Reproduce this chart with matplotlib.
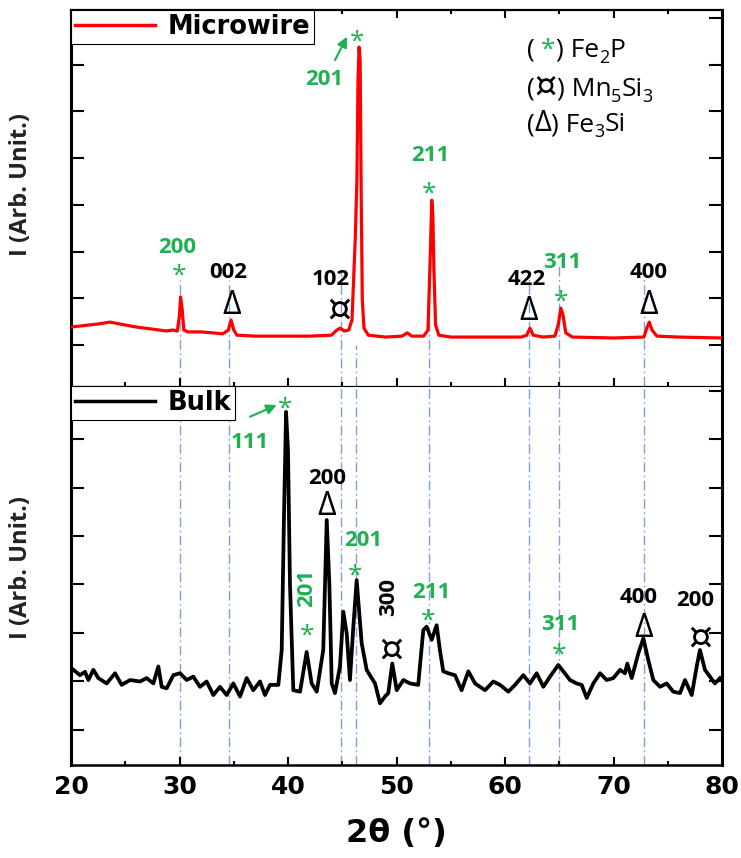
import matplotlib
matplotlib.use('Agg')
import matplotlib.pyplot as plt
from matplotlib.ticker import MultipleLocator, NullFormatter

plt.rcParams['font.family'] = ['Open Sans', 'DejaVu Sans']

# ---------------- data ----------------
mw_x = [20.0, 21.0, 22.5, 23.6, 24.5, 26.0, 27.5, 28.8, 29.4, 29.8,
        30.0, 30.1, 30.25, 30.4, 30.8, 32.0, 34.0, 34.5, 34.75, 35.0,
        35.3, 37.0, 40.0, 42.0, 44.0, 44.5, 44.8, 45.2, 45.6, 45.9,
        46.2, 46.35, 46.45, 46.55, 46.65, 46.75, 46.85, 47.0, 47.4, 49.0,
        50.5, 51.0, 51.4, 52.5, 52.9, 53.1, 53.25, 53.35, 53.45, 53.6,
        53.9, 55.0, 58.0, 61.5, 62.0, 62.3, 62.6, 63.5, 64.6, 64.9,
        65.15, 65.35, 65.6, 66.2, 70.0, 72.8, 73.1, 73.3, 73.55, 74.0,
        76.0, 80.0]
mw_y = [0.385, 0.41, 0.45, 0.49, 0.45, 0.385, 0.34, 0.30, 0.32, 0.30,
        0.64, 1.03, 0.75, 0.32, 0.28, 0.28, 0.24, 0.32, 0.535, 0.32,
        0.21, 0.19, 0.19, 0.19, 0.21, 0.32, 0.36, 0.30, 0.32, 0.54,
        2.29, 3.53, 5.67, 6.38, 6.10, 3.10, 0.96, 0.36, 0.21, 0.17,
        0.19, 0.26, 0.19, 0.19, 0.32, 1.82, 3.10, 2.78, 1.61, 0.43,
        0.21, 0.17, 0.17, 0.17, 0.21, 0.36, 0.21, 0.17, 0.19, 0.43,
        0.79, 0.64, 0.26, 0.17, 0.15, 0.17, 0.385, 0.49, 0.32, 0.19,
        0.17, 0.15]

bulk_x = [20.06, 20.83, 21.29, 21.6, 22.06, 22.52, 23.29, 24.06, 24.67, 25.44,
          26.36, 26.97, 27.59, 28.05, 28.36, 28.82, 29.43, 30.05, 30.66, 31.27,
          31.89, 32.5, 33.12, 33.73, 34.35, 34.96, 35.58, 36.19, 36.8, 37.42,
          37.88, 38.34, 39.11, 39.42, 39.63, 39.82, 40.0, 40.18, 40.49, 41.11,
          41.72, 42.18, 42.65, 43.25, 43.57, 43.81, 44.03, 44.33, 44.79, 45.1,
          45.41, 45.71, 46.02, 46.33, 46.79, 47.25, 47.71, 48.02, 48.48, 48.94,
          49.24, 49.61, 50.02, 50.63, 51.24, 52.0, 52.47, 52.78, 53.24, 53.7,
          54.0, 54.31, 54.77, 55.39, 56.0, 56.62, 57.24, 58.16, 58.92, 59.54,
          60.31, 60.92, 61.69, 62.3, 62.92, 63.53, 64.15, 64.91, 65.37, 65.99,
          66.6, 67.07, 67.53, 68.14, 68.76, 69.37, 69.99, 70.6, 71.06, 71.27,
          71.68, 72.29, 72.75, 73.21, 73.67, 74.29, 74.9, 75.51, 76.13, 76.59,
          77.21, 77.67, 77.97, 78.43, 78.89, 79.35, 79.82]
bulk_y = [1.27, 1.13, 1.20, 1.03, 1.24, 1.07, 0.96, 1.17, 0.93, 1.03,
          1.00, 1.07, 0.96, 1.31, 0.89, 0.86, 1.13, 1.17, 1.03, 1.10,
          0.89, 1.00, 0.72, 0.89, 0.72, 0.96, 0.69, 1.07, 0.82, 1.00,
          0.72, 0.93, 0.93, 1.65, 4.40, 6.56, 5.77, 3.02, 0.82, 0.79,
          1.61, 0.96, 0.79, 1.65, 4.33, 3.02, 0.96, 0.76, 1.31, 2.44,
          1.99, 1.03, 2.13, 3.09, 1.79, 1.24, 1.07, 0.96, 0.55, 0.69,
          0.76, 1.37, 0.82, 1.03, 0.96, 0.93, 2.06, 2.13, 1.86, 2.16,
          1.65, 1.21, 1.17, 1.13, 0.82, 1.21, 0.96, 0.82, 1.00, 0.93,
          0.79, 0.93, 1.13, 0.96, 1.17, 0.89, 1.10, 1.34, 1.21, 1.03,
          0.96, 0.93, 0.66, 0.96, 1.17, 1.03, 1.07, 1.24, 1.17, 1.37,
          1.07, 1.58, 1.89, 1.44, 1.03, 0.89, 0.96, 0.79, 0.76, 1.03,
          0.72, 1.31, 1.65, 1.24, 1.10, 0.96, 1.07]

ref_lines = [30.0, 34.6, 44.9, 46.3, 53.0, 62.2, 65.0, 72.8]
ref_top_start = [1.39, 1.40, 1.60, 0.0, 1.75, 1.46, 1.75, 1.54]

GREEN = '#1fb050'
BLACK = 'black'

# (label, x, y, color, rotation)
top_hkl = [("200", 29.8, 2.14, GREEN, 0), ("002", 34.5, 1.60, BLACK, 0),
           ("102", 43.9, 1.46, BLACK, 0), ("201", 43.3, 5.74, GREEN, 0),
           ("211", 53.1, 4.11, GREEN, 0), ("422", 62.0, 1.46, BLACK, 0),
           ("311", 65.3, 1.82, GREEN, 0), ("400", 73.2, 1.60, BLACK, 0)]
top_sym = [("*", 30.0, 1.67, GREEN), ("Δ", 34.8, 0.92, BLACK),
           ("¤", 44.7, 0.81, BLACK), ("*", 46.4, 6.68, GREEN),
           ("*", 53.0, 3.43, GREEN), ("Δ", 62.2, 0.79, BLACK),
           ("*", 65.2, 1.11, GREEN), ("Δ", 73.2, 0.90, BLACK)]
bot_hkl = [("111", 36.5, 5.98, GREEN, 0), ("200", 43.57, 5.24, BLACK, 0),
           ("201", 41.72, 2.92, GREEN, 90), ("201", 46.94, 3.95, GREEN, 0),
           ("300", 49.25, 2.75, BLACK, 90), ("211", 53.24, 2.89, GREEN, 0),
           ("311", 65.07, 2.23, GREEN, 0), ("400", 72.29, 2.78, BLACK, 0),
           ("200", 77.5, 2.72, BLACK, 0)]
bot_sym = [("*", 39.72, 6.80, GREEN), ("Δ", 43.57, 4.67, BLACK),
           ("*", 41.72, 2.13, GREEN), ("*", 46.18, 3.37, GREEN),
           ("¤", 49.55, 1.72, BLACK), ("*", 52.87, 2.44, GREEN),
           ("*", 64.99, 1.73, GREEN), ("Δ", 72.8, 2.16, BLACK),
           ("¤", 77.97, 1.96, BLACK)]
top_arrow = ((44.33, 6.10), (45.44, 6.60))
bot_arrow = ((36.5, 6.46), (38.96, 6.70))

# ---------------- figure ----------------
W, H = 741, 858
fig = plt.figure(figsize=(W / 100, H / 100), dpi=100)
L, R = 71 / W, 722 / W
ax1 = fig.add_axes([L, 1 - 386 / H, R - L, 376 / H])
ax2 = fig.add_axes([L, 1 - 765 / H, R - L, 379 / H], sharex=ax1)

ax1.plot(mw_x, mw_y, color='red', lw=2.3, label='Microwire', zorder=3)
ax2.plot(bulk_x, bulk_y, color='black', lw=2.7, label='Bulk', zorder=3)

ax1.set_xlim(20, 80)
ax1.set_ylim(-0.878, 7.173)
ax2.set_ylim(-0.722, 7.093)

line_style = dict(color='#7d9fdf', lw=1.0, linestyle=(0, (7, 2.5, 1.2, 2.5)), zorder=1)
for xv, ys in zip(ref_lines, ref_top_start):
    ax1.plot([xv, xv], [-0.878, ys], **line_style)
    ax2.plot([xv, xv], [-0.722, 7.093], **line_style)

for ax in (ax1, ax2):
    ax.xaxis.set_major_locator(MultipleLocator(10))
    ax.xaxis.set_minor_locator(MultipleLocator(5))
    ax.yaxis.set_major_locator(MultipleLocator(1))
    ax.yaxis.set_major_formatter(NullFormatter())
    ax.tick_params(axis='y', which='major', direction='in', left=True, right=True,
                   length=9.5, width=1.5)
    ax.tick_params(axis='x', which='major', direction='in', length=5.5, width=1.5)
    ax.tick_params(axis='x', which='minor', direction='in', length=3.2, width=1.5)
    for s in ('left', 'right'):
        ax.spines[s].set_linewidth(2.2)

ax1.tick_params(axis='x', which='both', top=True, bottom=True, labelbottom=False)
ax2.tick_params(axis='x', which='both', top=False, bottom=True, labelbottom=True, pad=7)
ax1.spines['top'].set_linewidth(1.6)
ax1.spines['bottom'].set_linewidth(0.8)
ax2.spines['top'].set_linewidth(0.8)
ax2.spines['bottom'].set_linewidth(1.8)

for lab in ax2.get_xticklabels():
    lab.set_fontfamily('DejaVu Sans')
    lab.set_fontweight('bold')
    lab.set_fontsize(18)

for ax, yc in ((ax1, 0.535), (ax2, 0.522)):
    ax.set_ylabel('I (Arb. Unit.)', fontsize=17, fontweight='bold', color='#222222')
    ax.yaxis.set_label_coords(-0.058, yc)

ax2.set_xlabel('2θ (°)', fontsize=23, fontweight='bold', fontfamily='DejaVu Sans', labelpad=14)

for ax in (ax1, ax2):
    leg = ax.legend(loc='upper left', bbox_to_anchor=(0, 1), borderaxespad=0,
                    fancybox=False, edgecolor='black', framealpha=1,
                    prop=dict(family='DejaVu Sans', weight='bold', size=18.5),
                    handlelength=3.1, handletextpad=0.5, borderpad=0.15)
    leg.get_frame().set_linewidth(0.8)
    for ln in leg.get_lines():
        ln.set_linewidth(2.5)

# ---------------- annotations ----------------
CENTER_FRAC = {'*': 0.59, 'Δ': 0.36, '¤': 0.36}


def put_label(ax, s, x, y, color, rot, size=16):
    if rot:
        ax.text(x, y, s, color=color, fontsize=size, fontweight='bold',
                rotation=rot, ha='center', va='center', zorder=5)
    else:
        ax.annotate(s, (x, y), xytext=(0, -0.36 * size), textcoords='offset points',
                    color=color, fontsize=size, fontweight='bold',
                    ha='center', va='baseline', zorder=5)


def put_sym(ax, s, x, y, color):
    family = ['Open Sans', 'DejaVu Sans']
    if s == '*':
        size, weight = 19, 'normal'
    elif s == 'Δ':
        size, weight = 23, 'normal'
    else:
        size, weight, family = 27, 'normal', ['DejaVu Sans']
    ax.annotate(s, (x, y), xytext=(0, -CENTER_FRAC[s] * size), textcoords='offset points',
                color=color, fontsize=size, fontweight=weight, family=family,
                ha='center', va='baseline', zorder=5)


for s, x, y, c, r in top_hkl:
    put_label(ax1, s, x, y, c, r)
for s, x, y, c in top_sym:
    put_sym(ax1, s, x, y, c)
for s, x, y, c, r in bot_hkl:
    put_label(ax2, s, x, y, c, r)
for s, x, y, c in bot_sym:
    put_sym(ax2, s, x, y, c)

for ax, (tail, head) in ((ax1, top_arrow), (ax2, bot_arrow)):
    ax.annotate('', xy=head, xytext=tail,
                arrowprops=dict(arrowstyle='-|>,head_length=0.6,head_width=0.3',
                                color=GREEN, lw=1.5, shrinkA=0, shrinkB=0), zorder=5)


# phase key (rich text)
def rich(ax, x, y, parts):
    first = parts[0]
    t0 = ax.text(x, y, first[0], color=first[1], fontsize=first[2],
                 ha='left', va='baseline', zorder=5)
    prev = t0
    for s, c, fs, dy, fam in parts[1:]:
        prev = ax.annotate(s, xy=(1, 0), xycoords=(prev, t0), xytext=(0, dy),
                           textcoords='offset points', color=c, fontsize=fs,
                           family=fam, ha='left', va='bottom', zorder=5)
    return t0


FS, SS = 19, 13
OS = ['Open Sans', 'DejaVu Sans']
DJ = ['DejaVu Sans']
rich(ax1, 62.0, 6.17, [("(", BLACK, FS, 0, OS), (" *", GREEN, FS, 0, OS),
                        (") Fe", BLACK, FS, 0, OS), ("2", BLACK, SS, -3, OS),
                        ("P", BLACK, FS, 0, OS)])
rich(ax1, 62.0, 5.34, [("(", BLACK, FS, 0, OS), ("¤", BLACK, 25, -1.5, DJ),
                        (") Mn", BLACK, FS, 0, OS), ("5", BLACK, SS, -3, OS),
                        ("Si", BLACK, FS, 0, OS), ("3", BLACK, SS, -3, OS)])
rich(ax1, 62.0, 4.58, [("(", BLACK, FS, 0, OS), ("Δ", BLACK, 21, -0.8, OS),
                        (") Fe", BLACK, FS, 0, OS), ("3", BLACK, SS, -3, OS),
                        ("Si", BLACK, FS, 0, OS)])

fig.savefig('out.png', dpi=100)
